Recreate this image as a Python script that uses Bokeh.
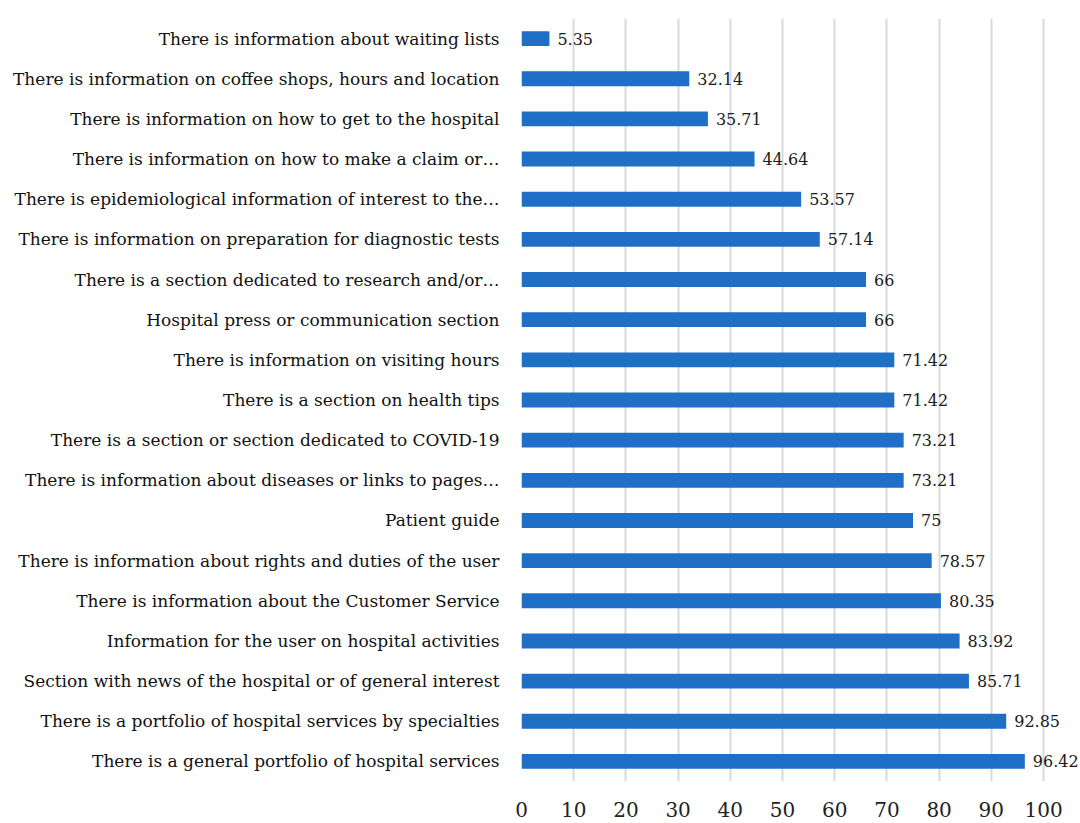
from bokeh.plotting import figure
from bokeh.models import FactorRange, Range1d, ColumnDataSource, FixedTicker
from bokeh.core.properties import value
from bokeh.embed import file_html
from bokeh.resources import INLINE

categories = [
    "There is information about waiting lists",
    "There is information on coffee shops, hours and location",
    "There is information on how to get to the hospital",
    "There is information on how to make a claim or\u2026",
    "There is epidemiological information of interest to the\u2026",
    "There is information on preparation for diagnostic tests",
    "There is a section dedicated to research and/or\u2026",
    "Hospital press or communication section",
    "There is information on visiting hours",
    "There is a section on health tips",
    "There is a section or section dedicated to COVID-19",
    "There is information about diseases or links to pages\u2026",
    "Patient guide",
    "There is information about rights and duties of the user",
    "There is information about the Customer Service",
    "Information for the user on hospital activities",
    "Section with news of the hospital or of general interest",
    "There is a portfolio of hospital services by specialties",
    "There is a general portfolio of hospital services",
]
values = [5.35, 32.14, 35.71, 44.64, 53.57, 57.14, 66, 66, 71.42, 71.42,
          73.21, 73.21, 75, 78.57, 80.35, 83.92, 85.71, 92.85, 96.42]
x_ticks = [0, 10, 20, 30, 40, 50, 60, 70, 80, 90, 100]

labels = [f"{v:g}" for v in values]
src = ColumnDataSource(dict(cat=categories, val=values, lab=labels))

FONT = "DejaVu Serif"

p = figure(width=1080, height=823, output_backend="svg", toolbar_location=None,
           y_range=FactorRange(factors=list(reversed(categories)), range_padding=0),
           x_range=Range1d(0, 106.7))
p.min_border_left = 521
p.min_border_top = 18
p.min_border_bottom = 42
p.min_border_right = 2
p.outline_line_color = None
p.background_fill_color = "white"

p.hbar(y="cat", right="val", left=0, height=0.37, source=src,
       fill_color="#1f6fc6", line_color=None)
p.text(x="val", y="cat", text="lab", source=src, x_offset=8,
       text_baseline="middle", text_align="left",
       text_font=value(FONT), text_font_size="16px", text_color="#1a1a1a")

p.xgrid.ticker = FixedTicker(ticks=x_ticks)
p.xgrid.grid_line_color = "#d9d9d9"
p.xgrid.grid_line_width = 2
p.ygrid.grid_line_color = None

p.xaxis.ticker = FixedTicker(ticks=x_ticks)
p.xaxis.axis_line_color = None
p.xaxis.major_tick_line_color = None
p.xaxis.minor_tick_line_color = None
p.xaxis.major_label_text_font = FONT
p.xaxis.major_label_text_font_size = "20px"
p.xaxis.major_label_text_color = "#222222"
p.xaxis.major_label_standoff = 14

p.yaxis.axis_line_color = None
p.yaxis.major_tick_line_color = None
p.yaxis.minor_tick_line_color = None
p.yaxis.major_label_text_font = FONT
p.yaxis.major_label_text_font_size = "17px"
p.yaxis.major_label_text_color = "#111111"
p.yaxis.major_label_standoff = 16

open("out.html", "w").write(file_html(p, INLINE))
